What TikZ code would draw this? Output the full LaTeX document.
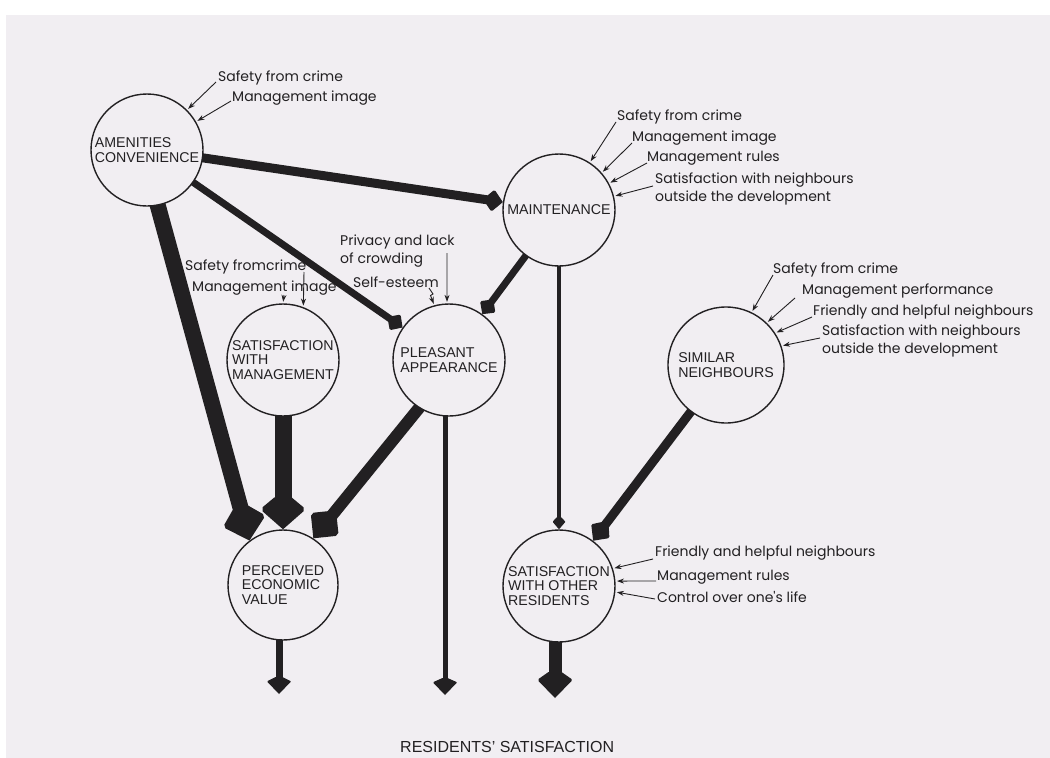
\documentclass[tikz,border=0pt]{standalone}
\usepackage{fontspec}
\setmainfont{Liberation Sans}
\newfontfamily\labfont{Poppins}
\usetikzlibrary{calc,arrows.meta}
\pgfdeclarelayer{back}\pgfdeclarelayer{under}
\pgfsetlayers{back,under,main}
\definecolor{paper}{RGB}{241,238,242}
\definecolor{ink}{RGB}{34,32,34}
\tikzset{
  circ/.style={circle, draw=ink, line width=1.4pt, fill=paper, minimum size=112pt, inner sep=0pt},
  ctext/.style={font=\fontsize{14.2}{14.8}\selectfont, align=left, text=ink, inner sep=0pt},
  lab/.style={font=\labfont\fontsize{14}{18}\selectfont, align=left, anchor=west, inner sep=0pt, text=ink},
  lead/.style={draw=ink, line width=0.9pt, -{Stealth[length=7pt,width=5pt]}, shorten >=1.5pt},
  shaft/.style={draw=ink, line cap=butt, shorten <=-5pt},
}
% #1 tip, #2 source, #3 join distance, #4 front wing, #5 back wing, #6 head half width, #7 shaft half width
\newcommand\arrowhd[7]{%
  \path (#1) coordinate (hT) ($(#1)!#4!(#2)$) coordinate (hF) ($(#1)!#5!(#2)$) coordinate (hG) ($(#1)!#3!(#2)$) coordinate (hB);
  \fill[ink] (hT) -- ($(hF)!#6!90:(hT)$) -- ($(hG)!#6!90:(hT)$) -- ($(hB)!#7!90:(hT)$)
     -- ($(hB)!#7!-90:(hT)$) -- ($(hG)!#6!-90:(hT)$) -- ($(hF)!#6!-90:(hT)$) -- cycle;
}
\begin{document}
\begin{tikzpicture}[x=1pt,y=-1pt]
\useasboundingbox (0,0) rectangle (1050,758);
\begin{pgfonlayer}{back}
\fill[white] (0,0) rectangle (1050,758);
\fill[paper] (6,15) rectangle (1050,758);
\end{pgfonlayer}

% circles
\node[circ] (amen) at (147,150) {};
\node[circ] (maint) at (559,210) {};
\node[circ] (swm) at (283,360) {};
\node[circ] (pleas) at (449,360) {};
\node[circ, minimum size=116pt] (simil) at (726,365) {};
\node[circ, minimum size=110pt] (pev) at (283,585) {};
\node[circ] (swor) at (559,586) {};

\node[ctext] (amen-t) at (amen) {AMENITIES\\CONVENIENCE};
\node[ctext] (maint-t) at (maint) {MAINTENANCE};
\node[ctext] (swm-t) at (swm) {SATISFACTION\\WITH\\MANAGEMENT};
\node[ctext] (pleas-t) at (pleas) {PLEASANT\\APPEARANCE};
\node[ctext] (simil-t) at (726,365) {SIMILAR\\NEIGHBOURS};
\node[ctext] (pev-t) at (pev) {PERCEIVED\\ECONOMIC\\VALUE};
\node[ctext] (swor-t) at (swor) {SATISFACTION\\WITH OTHER\\RESIDENTS};

% bottom free ends
\coordinate (o1) at (279,694);
\coordinate (o2) at (445,695);
\coordinate (o3) at (555,698);
\coordinate (i1) at (o1 |- pev.south);
\coordinate (i2) at (o2 |- pleas.south);
\coordinate (i3) at (o3 |- swor.south);

\begin{pgfonlayer}{under}
% amenities -> maintenance
\draw[shaft, line width=9pt, shorten >=11pt] (amen.-8) -- (maint.172);
\arrowhd{maint.172}{amen.-8}{16pt}{9pt}{11pt}{10pt}{4.5pt}
% amenities -> pleasant
\draw[shaft, line width=7pt, shorten >=10pt] (amen.-35) -- (pleas.145);
\arrowhd{pleas.145}{amen.-35}{15pt}{8pt}{10pt}{8.5pt}{3.5pt}
% amenities -> perceived
\draw[shaft, line width=16pt, shorten >=22pt] (amen.-79) -- (pev.127);
\arrowhd{pev.127}{amen.-79}{34pt}{18pt}{22pt}{20pt}{8pt}
% maintenance -> pleasant
\draw[shaft, line width=7pt, shorten >=10pt] (maint.-126) -- (pleas.54);
\arrowhd{pleas.54}{maint.-126}{15pt}{8pt}{10pt}{8.5pt}{3.5pt}
% maintenance -> satisfaction with other residents
\draw[shaft, line width=4.5pt, shorten >=8pt] (maint.south) -- (swor.north);
\arrowhd{swor.north}{maint.south}{12pt}{7pt}{8pt}{6pt}{2.25pt}
% satisfaction with management -> perceived
\draw[shaft, line width=17pt, shorten >=22pt] (swm.south) -- (pev.north);
\arrowhd{pev.north}{swm.south}{32pt}{18pt}{22pt}{20.5pt}{8.5pt}
% pleasant -> perceived
\draw[shaft, line width=12pt, shorten >=20pt] (pleas.-122) -- (pev.57);
\arrowhd{pev.57}{pleas.-122}{30pt}{16pt}{20pt}{16pt}{6pt}
% similar -> satisfaction with other residents
\draw[shaft, line width=9pt, shorten >=13pt] (simil.-127) -- (swor.53);
\arrowhd{swor.53}{simil.-127}{20pt}{11pt}{13pt}{10.5pt}{4.5pt}
% outputs
\draw[shaft, line width=7pt, shorten >=13pt] (i1) -- (o1);
\arrowhd{o1}{i1}{17pt}{12pt}{13pt}{11.5pt}{3.5pt}
\draw[shaft, line width=5pt, shorten >=13pt] (i2) -- (o2);
\arrowhd{o2}{i2}{17pt}{12pt}{13pt}{11.5pt}{2.5pt}
\draw[shaft, line width=13pt, shorten >=19pt] (i3) -- (o3);
\arrowhd{o3}{i3}{26pt}{17pt}{19pt}{16.5pt}{6.5pt}
\end{pgfonlayer}

% labels: amenities
\node[lab] (a1) at (218,78) {Safety from crime};
\node[lab] (a2) at (232,98) {Management image};
\coordinate (a1s) at (216,82);
\coordinate (a2s) at (231,101);
\draw[lead] (a1s) -- (amen.45);
\draw[lead] (a2s) -- (amen.30);

% labels: maintenance
\node[lab] (m1) at (617,117) {Safety from crime};
\node[lab] (m2) at (632,138) {Management image};
\node[lab] (m3) at (647,158) {Management rules};
\node[lab] (m4) at (655,189) {Satisfaction with neighbours\\outside the development};
\coordinate (m1s) at (616,122);
\coordinate (m2s) at (632,143);
\coordinate (m3s) at (647,163);
\coordinate (m4s) at (653,186);
\draw[lead] (m1s) -- (maint.57);
\draw[lead] (m2s) -- (maint.41);
\draw[lead] (m3s) -- (maint.28);
\draw[lead] (m4s) -- (maint.14);

% labels: similar neighbours
\node[lab] (s1) at (773,270) {Safety from crime};
\node[lab] (s2) at (802,291) {Management performance};
\node[lab] (s3) at (813,312) {Friendly and helpful neighbours};
\node[lab] (s4) at (822,341) {Satisfaction with neighbours\\outside the development};
\coordinate (s1s) at (773,275);
\coordinate (s2s) at (795,298);
\coordinate (s3s) at (812,317);
\coordinate (s4s) at (820,338);
\draw[lead] (s1s) -- (simil.64);
\draw[lead] (s2s) -- (simil.46);
\draw[lead] (s3s) -- (simil.33);
\draw[lead] (s4s) -- (simil.19);

% labels: satisfaction with other residents
\node[lab] (w1) at (655,553) {Friendly and helpful neighbours};
\node[lab] (w2) at (657,577) {Management rules};
\node[lab] (w3) at (657,597) {Control over one's life};
\coordinate (w1s) at (653,559);
\coordinate (w2s) at (656,581);
\coordinate (w3s) at (655,599);
\draw[lead] (w1s) -- (swor.18);
\draw[lead] (w2s) -- (swor.5);
\draw[lead] (w3s) -- (swor.-6);

% labels: satisfaction with management
\node[lab] (q1) at (185,267) {Safety fromcrime};
\node[lab] (q2) at (192,288) {Management image};
\coordinate (q1s) at (284,295);
\coordinate (q2s) at (304,272);
\draw[lead] (q1s) -- (swm.90);
\draw[lead] (q2s) -- (swm.69);

% labels: pleasant appearance
\node[lab] (p1) at (340,251.5) {Privacy and lack\\of crowding};
\node[lab] (p2) at (353,282) {Self-esteem};
\coordinate (p1s) at (447,253);
\coordinate (p2s) at (429,288);
\coordinate (p2k) at (433,294);
\coordinate (p2l) at (430.5,295.5);
\draw[lead] (p1s) -- (pleas.92);
\draw[lead] (p2s) -- (p2k) -- (p2l) -- (pleas.105);

\node[font=\fontsize{16}{17}\selectfont, anchor=west, inner sep=0pt, text=ink] (res) at (400,747) {RESIDENTS' SATISFACTION};
\end{tikzpicture}
\end{document}
